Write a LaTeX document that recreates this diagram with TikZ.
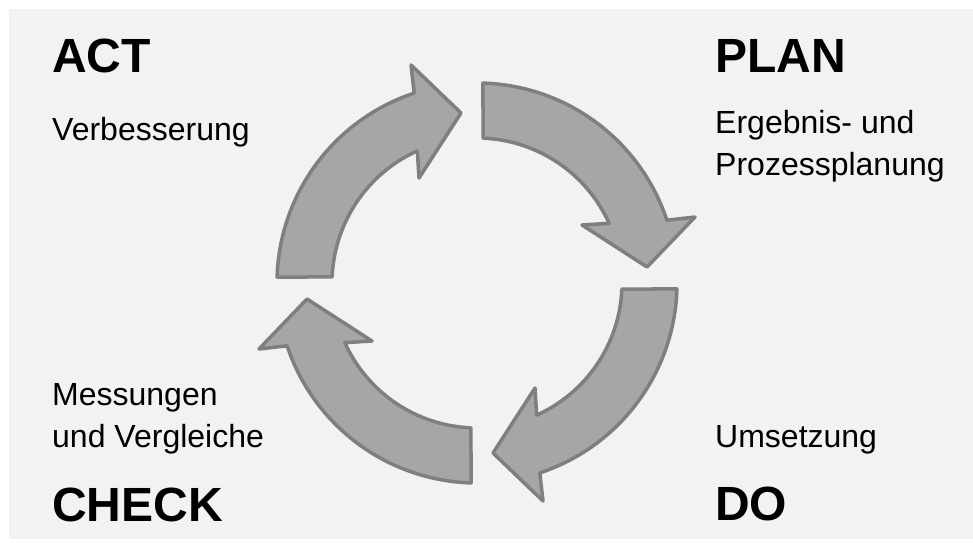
\documentclass[tikz,border=0pt]{standalone}
\usepackage{fontspec}
\setmainfont{Liberation Sans}
\usepackage{tikz}
\usetikzlibrary{calc}
\usetikzlibrary{positioning}

\definecolor{hintergrund}{HTML}{F2F2F2}
\definecolor{pfeilfill}{HTML}{A6A6A6}
\definecolor{pfeilrand}{HTML}{7F7F7F}

\tikzset{
  pfeil/.style={fill=pfeilfill,draw=pfeilrand,line width=3.5pt,line join=round},
  titel/.style={anchor=base west,inner sep=0pt,font=\bfseries\fontsize{48}{58}\selectfont},
  info/.style={anchor=base west,inner sep=0pt,font=\fontsize{32}{42}\selectfont}
}

\begin{document}
\begin{tikzpicture}[x=1pt,y=1pt]
      \useasboundingbox (0,0) rectangle (973,-549);
      \fill[hintergrund] (9,-9) rectangle (973,-539);
      \coordinate (mitte) at (477,-283);
      % Pfeile im Kreis
      \foreach \w in {0,-90,180,90}
      \draw[pfeil,shift={(mitte)},rotate=\w]
        (88.3:200) arc[start angle=88.3,end angle=18.3,radius=200]
        -- (218,66) -- (170,16) -- (105,58)
        -- (24.3:145) arc[start angle=24.3,end angle=87.6,radius=145] -- cycle;
      % Beschriftung
      \foreach \n/\y/\t in {act/72/ACT,check/521/CHECK}
      \node[titel] (\n) at (52,-\y) {\t};
      \foreach \n/\y/\t in {plan/72/PLAN,do/520/DO}
      \node[titel] (\n) at (715,-\y) {\t};
      \node[info] (verb) at (52,-140) {Verbesserung};
      \node[info] (mess) at (52,-405) {Messungen};
      \node[info] (vergl) at (52,-447) {und Vergleiche};
      \node[info] (erg) at (715,-133) {Ergebnis- und};
      \node[info] (proz) at (715,-175) {Prozessplanung};
      \node[info] (ums) at (715,-447) {Umsetzung};
	\end{tikzpicture}
\end{document}
